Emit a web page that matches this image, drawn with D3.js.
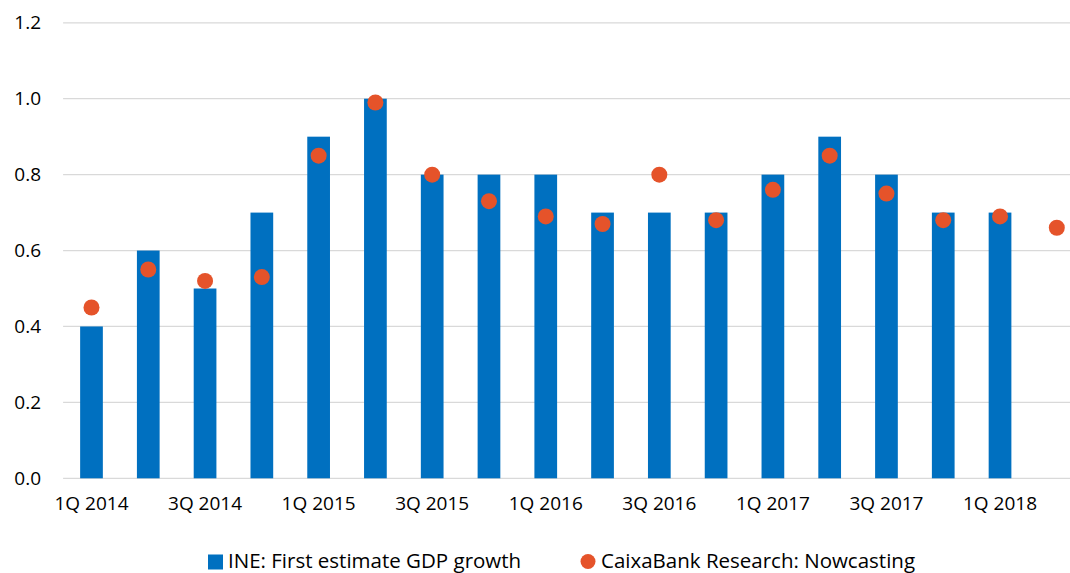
<!DOCTYPE html>
<html><head><meta charset="utf-8">
<script src="https://cdn.jsdelivr.net/npm/d3@7"></script>
<style>body{margin:0;background:#fff}svg{display:block}text{font-family:"Open Sans",sans-serif;fill:#000}</style>
</head><body>
<script>
const categories = ["1Q 2014","2Q 2014","3Q 2014","4Q 2014","1Q 2015","2Q 2015","3Q 2015","4Q 2015","1Q 2016","2Q 2016","3Q 2016","4Q 2016","1Q 2017","2Q 2017","3Q 2017","4Q 2017","1Q 2018","2Q 2018"];
const ineValues = [0.4,0.6,0.5,0.7,0.9,1.0,0.8,0.8,0.8,0.7,0.7,0.7,0.8,0.9,0.8,0.7,0.7,null];
const nowcastValues = [0.45,0.55,0.52,0.53,0.85,0.99,0.80,0.73,0.69,0.67,0.80,0.68,0.76,0.85,0.75,0.68,0.69,0.66];
const yTicks = [0,0.2,0.4,0.6,0.8,1.0,1.2];
const xTickLabels = ["1Q 2014","3Q 2014","1Q 2015","3Q 2015","1Q 2016","3Q 2016","1Q 2017","3Q 2017","1Q 2018"];
const seriesNames = ["INE: First estimate GDP growth","CaixaBank Research: Nowcasting"];
const barColor = "#0070C0", dotColor = "#E5532A";

const W = 1070, H = 573;
const svg = d3.select("body").append("svg").attr("width", W).attr("height", H);
const x = d3.scaleBand().domain(categories).range([63.1, 1085.2]).paddingInner(0.6).paddingOuter(0.3);
const y = d3.scaleLinear().domain([0, 1.2]).range([478.3, 22.8]);

// gridlines
svg.append("g").selectAll("line").data(yTicks).join("line")
  .attr("x1", 63.1).attr("x2", 1085.2)
  .attr("y1", d => y(d)).attr("y2", d => y(d))
  .attr("stroke", "#d9d9d9").attr("stroke-width", 1.3);

// y axis labels
const yAxis = d3.axisLeft(y).tickValues(yTicks).tickFormat(d3.format(".1f")).tickSize(0).tickPadding(0);
const yg = svg.append("g").attr("transform", "translate(41,0)").call(yAxis);
yg.select(".domain").remove();
yg.selectAll("text").attr("font-size", 19).attr("font-family", '"Open Sans",sans-serif').attr("fill", "#000");

// bars
svg.append("g").selectAll("rect").data(categories.map((c,i)=>({c, v: ineValues[i]})).filter(d => d.v != null)).join("rect")
  .attr("x", d => x(d.c)).attr("width", x.bandwidth())
  .attr("y", d => y(d.v)).attr("height", d => y(0) - y(d.v))
  .attr("fill", barColor);

// dots
svg.append("g").selectAll("circle").data(categories.map((c,i)=>({c, v: nowcastValues[i]}))).join("circle")
  .attr("cx", d => x(d.c) + x.bandwidth()/2).attr("cy", d => y(d.v)).attr("r", 8)
  .attr("fill", dotColor);

// x axis labels
const xAxis = d3.axisBottom(x).tickValues(xTickLabels).tickSize(0).tickPadding(0);
const xg = svg.append("g").attr("transform", "translate(0,496)").call(xAxis);
xg.select(".domain").remove();
xg.selectAll("text").attr("font-size", 19).attr("font-family", '"Open Sans",sans-serif').attr("fill", "#000");

// legend
const lg = svg.append("g");
lg.append("rect").attr("x", 208).attr("y", 554.5).attr("width", 15).attr("height", 15).attr("fill", barColor);
lg.append("text").attr("x", 228).attr("y", 567.5).attr("font-size", 20.5).text(seriesNames[0]);
lg.append("circle").attr("cx", 588).attr("cy", 561.5).attr("r", 7.5).attr("fill", dotColor);
lg.append("text").attr("x", 601).attr("y", 567.5).attr("font-size", 20.5).text(seriesNames[1]);
</script>
</body></html>
